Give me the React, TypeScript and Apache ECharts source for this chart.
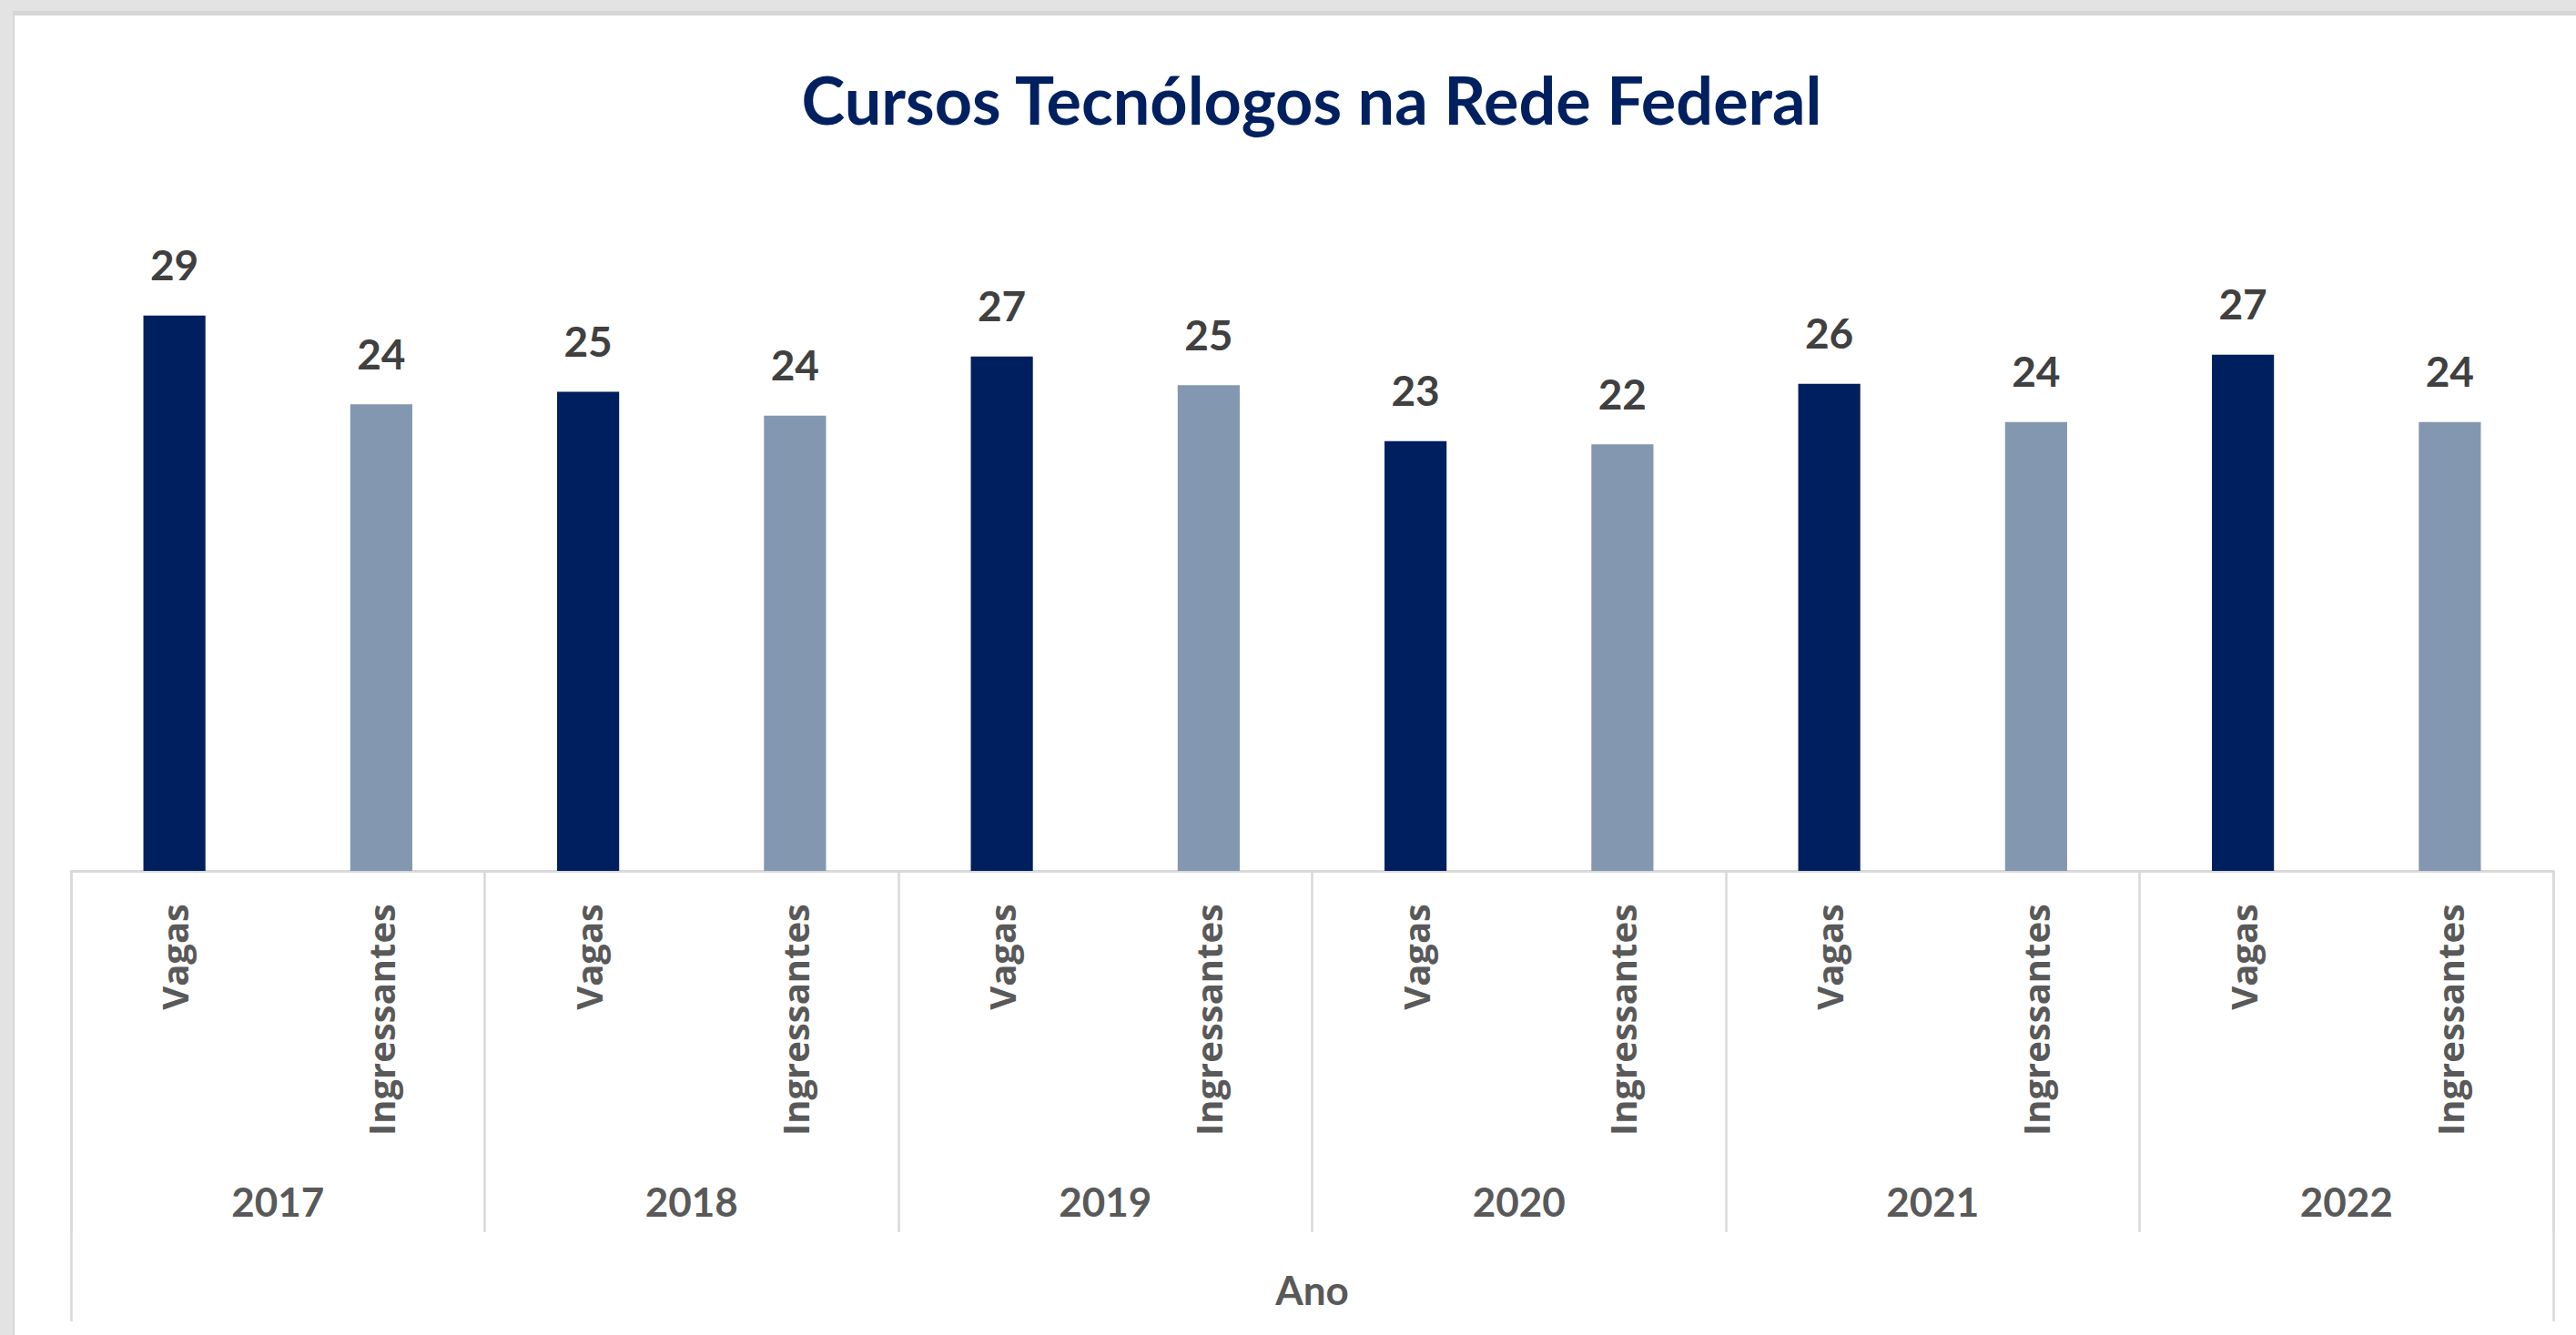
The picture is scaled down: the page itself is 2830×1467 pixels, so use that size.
import React, { useEffect, useRef } from "react";
import * as echarts from "echarts";

const years = ["2017", "2018", "2019", "2020", "2021", "2022"];
const seriesNames = ["Vagas", "Ingressantes"];
const vagas = [29.1, 25.1, 26.95, 22.52, 25.52, 27.05];
const ingressantes = [24.45, 23.85, 25.45, 22.35, 23.52, 23.52];
const axisTitle = "Ano";
const titleText = "Cursos Tecnólogos na Rede Federal";
const colors = ["#001F5F", "#8497B0"];

export default function App() {
  const ref = useRef<HTMLDivElement>(null);
  useEffect(() => {
    if (!ref.current) return;
    const chart = echarts.init(ref.current, null, { renderer: "svg" });
    const cats = years.flatMap(() => seriesNames);
    const data = years.flatMap((_, i) => [
      { value: vagas[i], itemStyle: { color: colors[0] } },
      { value: ingressantes[i], itemStyle: { color: colors[1] } },
    ]);
    const sepColor = "#D9D9D9";
    chart.setOption({
      animation: false,
      backgroundColor: "#FFFFFF",
      title: {
        text: titleText,
        left: 1420,
        top: 87,
        textAlign: "center",
        textVerticalAlign: "middle",
        textStyle: { fontFamily: "Lato", fontWeight: "bold", fontSize: 72, color: "#002060" },
      },
      grid: { left: 62, right: 25, top: 206, bottom: 510, containLabel: false },
      xAxis: [
        {
          type: "category",
          data: cats,
          position: "bottom",
          axisLine: { show: true, lineStyle: { color: sepColor, width: 3 } },
          axisTick: { show: false },
          axisLabel: {
            interval: 0,
            rotate: 90,
            margin: 36,
            fontSize: 40,
            fontWeight: "bold",
            fontFamily: "Open Sans",
            color: "#595959",
          },
        },
        {
          type: "category",
          data: years,
          position: "bottom",
          axisLine: { show: false },
          axisTick: { show: true, interval: 0, length: 397, lineStyle: { color: sepColor, width: 2.5 } },
          axisLabel: { interval: 0, margin: 341, fontSize: 44, fontWeight: "bold", fontFamily: "Lato", color: "#595959" },
        },
        {
          type: "category",
          data: [axisTitle],
          position: "bottom",
          axisLine: { show: false },
          axisTick: { show: true, interval: 0, length: 495, lineStyle: { color: sepColor, width: 2.5 } },
          axisLabel: { interval: 0, margin: 438, fontSize: 44, fontWeight: "bold", fontFamily: "Lato", color: "#595959" },
        },
      ],
      yAxis: { type: "value", min: 0, max: 35, show: false },
      series: [
        {
          type: "bar",
          xAxisIndex: 0,
          data,
          barWidth: "30%",
          label: {
            show: true,
            position: "top",
            distance: 33,
            fontFamily: "Lato",
            fontWeight: "bold",
            fontSize: 46,
            color: "#404040",
            formatter: (p: any) => String(Math.round(p.value)),
          },
        },
      ],
    });
    return () => chart.dispose();
  }, []);
  return (
    <div style={{ position: "fixed", left: 0, top: 0, width: 2830, height: 1467, background: "#E3E3E3", overflow: "hidden" }}>
      <div style={{ position: "absolute", left: 14, top: 12, right: 0, bottom: 0, background: "#D6D6D6" }} />
      <div ref={ref} style={{ position: "absolute", left: 16, top: 17, width: 2814, height: 1450, background: "#FFFFFF" }} />
    </div>
  );
}
